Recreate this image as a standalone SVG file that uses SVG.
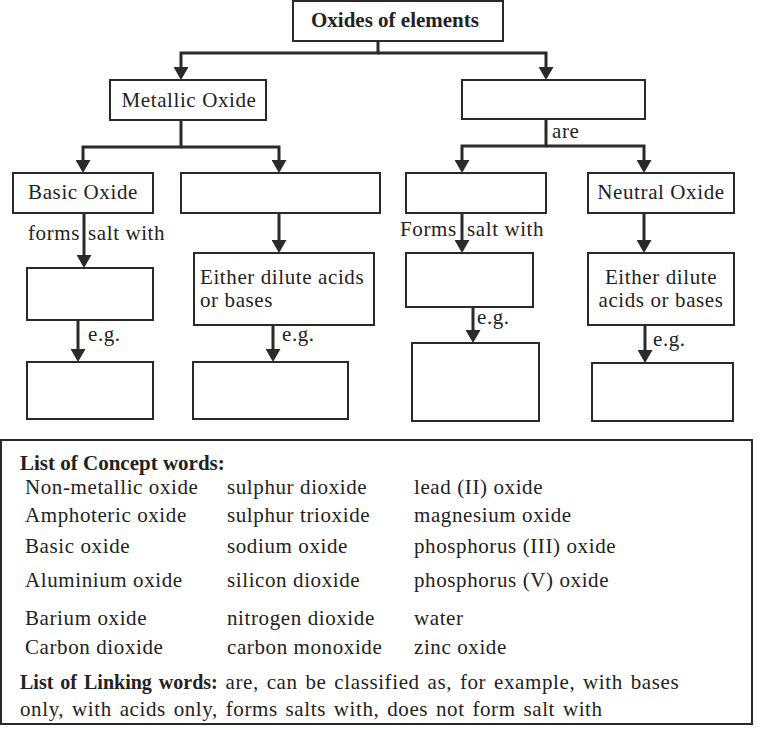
<svg xmlns="http://www.w3.org/2000/svg" width="761" height="733" viewBox="0 0 761 733">
<style>
text{font-family:"Liberation Serif","Tinos","Times New Roman","DejaVu Serif",serif;font-size:21px;letter-spacing:0.6px;fill:#222}
.b{font-weight:bold;letter-spacing:0}
.s{font-size:20px}
.w{word-spacing:2px}
.box{fill:#fff;stroke:#2a2a2a;stroke-width:2}
.c{fill:none;stroke:#2a2a2a;stroke-width:3}
.m{text-anchor:middle}
</style>
<defs>
<marker id="ah" markerUnits="userSpaceOnUse" markerWidth="14" markerHeight="15" viewBox="0 0 14 15" refX="10" refY="7.5" orient="auto">
<path d="M0,0 L13,7.5 L0,15 Z" fill="#2a2a2a"/>
</marker>
</defs>
<rect width="761" height="733" fill="#fff"/>
<g id="connectors">
<path class="c" d="M378,41 V53 H181 V77" marker-end="url(#ah)"/>
<path class="c" d="M378,53 H546 V77" marker-end="url(#ah)"/>
<path class="c" d="M181,120 V147 H83 V170" marker-end="url(#ah)"/>
<path class="c" d="M181,147 H279 V170" marker-end="url(#ah)"/>
<path class="c" d="M546,119 V146 H462 V170" marker-end="url(#ah)"/>
<path class="c" d="M546,146 H644 V170" marker-end="url(#ah)"/>
<path class="c" d="M84,213 V265" marker-end="url(#ah)"/>
<path class="c" d="M78,320 V359" marker-end="url(#ah)"/>
<path class="c" d="M279,213 V250" marker-end="url(#ah)"/>
<path class="c" d="M273,325 V359" marker-end="url(#ah)"/>
<path class="c" d="M462,213 V250" marker-end="url(#ah)"/>
<path class="c" d="M473,307 V340" marker-end="url(#ah)"/>
<path class="c" d="M644,213 V250" marker-end="url(#ah)"/>
<path class="c" d="M645,325 V360" marker-end="url(#ah)"/>
<text x="552" y="138">are</text>
<text y="240"><tspan x="28">forms</tspan><tspan x="88">salt with</tspan></text>
<text y="236"><tspan x="400">Forms</tspan><tspan x="467">salt with</tspan></text>
<text x="88" y="341">e.g.</text>
<text x="282" y="341">e.g.</text>
<text x="477" y="324">e.g.</text>
<text x="653" y="346">e.g.</text>
</g>
<g id="oxides">
<rect class="box" x="293" y="1" width="210" height="40"/>
<text class="b m" x="395" y="27">Oxides of elements</text>
</g>
<g id="metallic">
<rect class="box" x="110" y="80" width="156" height="40"/>
<text class="m" x="189" y="107">Metallic Oxide</text>
</g>
<g id="nonmetallic">
<rect class="box" x="462" y="80" width="183" height="39"/>
</g>
<g id="basic">
<rect class="box" x="13" y="173" width="140" height="40"/>
<text class="m" x="83" y="199">Basic Oxide</text>
</g>
<g id="amphoteric">
<rect class="box" x="181" y="173" width="199" height="40"/>
</g>
<g id="acidic">
<rect class="box" x="406" y="173" width="140" height="40"/>
</g>
<g id="neutral">
<rect class="box" x="588" y="173" width="146" height="40"/>
<text class="m" x="661" y="199">Neutral Oxide</text>
</g>
<g id="basic-salt">
<rect class="box" x="27" y="268" width="126" height="52"/>
</g>
<g id="basic-eg">
<rect class="box" x="27" y="362" width="126" height="57"/>
</g>
<g id="amph-salt">
<rect class="box" x="194" y="253" width="180" height="72"/>
<text x="200" y="284">Either dilute acids</text>
<text x="200" y="307">or bases</text>
</g>
<g id="amph-eg">
<rect class="box" x="193" y="362" width="155" height="57"/>
</g>
<g id="acidic-salt">
<rect class="box" x="406" y="253" width="127" height="54"/>
</g>
<g id="acidic-eg">
<rect class="box" x="412" y="343" width="127" height="78"/>
</g>
<g id="neutral-salt">
<rect class="box" x="588" y="253" width="146" height="72"/>
<text class="m" x="661" y="284">Either dilute</text>
<text class="m" x="661" y="307">acids or bases</text>
</g>
<g id="neutral-eg">
<rect class="box" x="592" y="363" width="141" height="58"/>
</g>
<g id="word-list">
<rect class="box" x="1" y="440" width="751" height="284"/>
<text class="b" x="20" y="470">List of Concept words:</text>
<text x="25" y="494">Non-metallic oxide</text>
<text x="25" y="522">Amphoteric oxide</text>
<text x="25" y="553">Basic oxide</text>
<text x="25" y="587">Aluminium oxide</text>
<text x="25" y="625">Barium oxide</text>
<text x="25" y="654">Carbon dioxide</text>
<text x="227" y="494">sulphur dioxide</text>
<text x="227" y="522">sulphur trioxide</text>
<text x="227" y="553">sodium oxide</text>
<text x="227" y="587">silicon dioxide</text>
<text x="227" y="625">nitrogen dioxide</text>
<text x="227" y="654">carbon monoxide</text>
<text x="414" y="494">lead (II) oxide</text>
<text x="414" y="522">magnesium oxide</text>
<text x="414" y="553">phosphorus (III) oxide</text>
<text x="414" y="587">phosphorus (V) oxide</text>
<text x="414" y="625">water</text>
<text x="414" y="654">zinc oxide</text>
<text class="w" x="20" y="689"><tspan class="b s">List of Linking words:</tspan> are, can be classified as, for example, with bases</text>
<text class="w" x="20" y="716">only, with acids only, forms salts with, does not form salt with</text>
</g>
</svg>
